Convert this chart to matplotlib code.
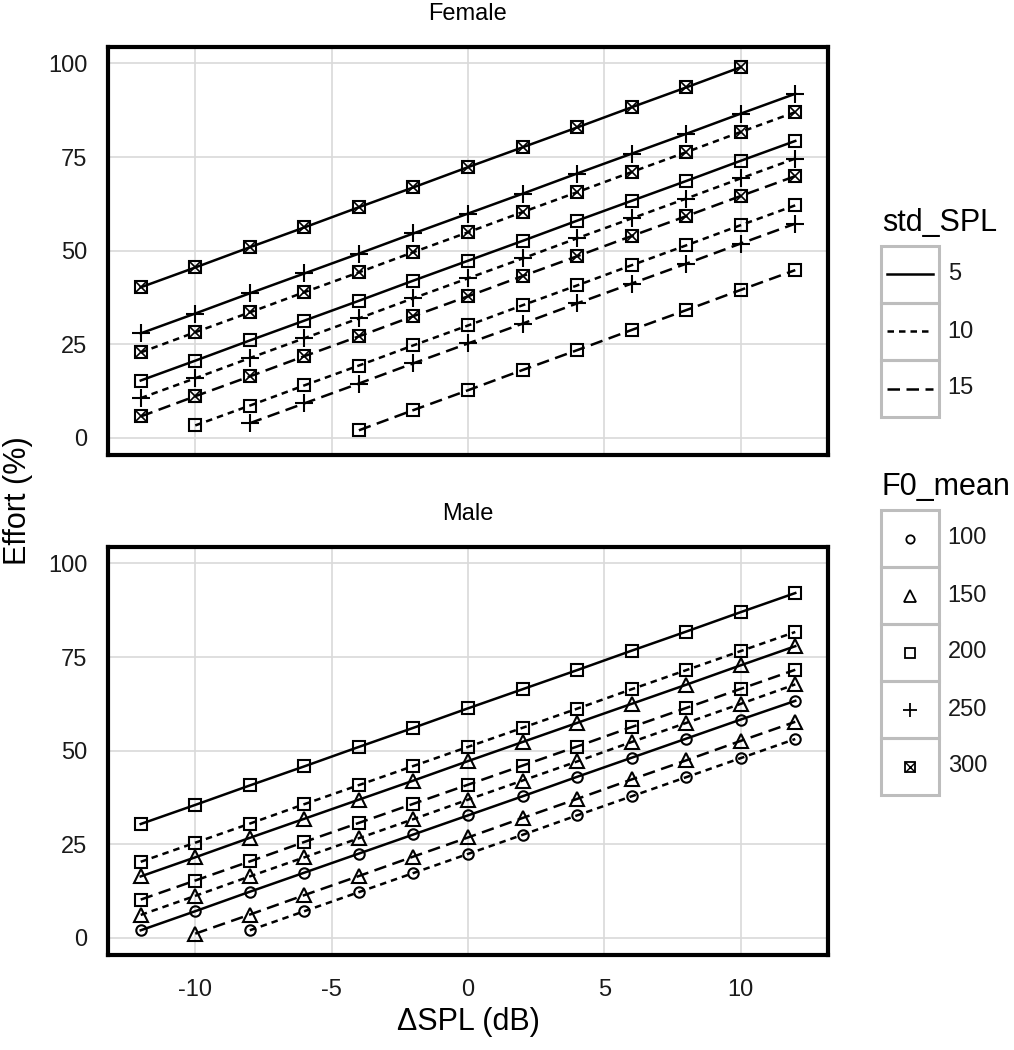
import numpy as np
import matplotlib.pyplot as plt
from matplotlib.patches import Rectangle

plt.rcParams["font.family"] = ["Liberation Sans", "DejaVu Sans"]
plt.rcParams["axes.unicode_minus"] = False

NA = np.nan
dspl = [-12, -10, -8, -6, -4, -2, 0, 2, 4, 6, 8, 10, 12]

# Female panel, effort (%) per dSPL step; NA = point not drawn
fem_300_sd5 = [40.2, 45.5, 50.9, 56.2, 61.6, 66.9, 72.3, 77.6, 82.9, 88.3, 93.6, 99.0, NA]
fem_250_sd5 = [27.9, 33.2, 38.6, 43.9, 49.2, 54.6, 59.9, 65.2, 70.6, 75.9, 81.2, 86.6, 91.9]
fem_300_sd10 = [22.8, 28.2, 33.5, 38.9, 44.2, 49.6, 54.9, 60.3, 65.6, 71.0, 76.3, 81.7, 87.0]
fem_200_sd5 = [15.3, 20.6, 26.0, 31.3, 36.6, 42.0, 47.3, 52.6, 58.0, 63.3, 68.6, 74.0, 79.3]
fem_250_sd10 = [10.6, 15.9, 21.3, 26.6, 31.9, 37.3, 42.6, 47.9, 53.3, 58.6, 63.9, 69.3, 74.6]
fem_300_sd15 = [5.7, 11.1, 16.4, 21.8, 27.1, 32.5, 37.8, 43.2, 48.5, 53.9, 59.2, 64.6, 69.9]
fem_200_sd10 = [NA, 3.3, 8.6, 14.0, 19.3, 24.7, 30.0, 35.4, 40.7, 46.1, 51.4, 56.8, 62.1]
fem_250_sd15 = [NA, NA, 3.9, 9.2, 14.5, 19.9, 25.2, 30.5, 35.9, 41.2, 46.5, 51.9, 57.2]
fem_200_sd15 = [NA, NA, NA, NA, 2.0, 7.4, 12.7, 18.1, 23.4, 28.8, 34.1, 39.5, 44.8]

# Male panel
male_200_sd5 = [30.4, 35.5, 40.7, 45.8, 51.0, 56.1, 61.3, 66.4, 71.5, 76.7, 81.8, 87.0, 92.1]
male_200_sd10 = [20.3, 25.4, 30.5, 35.7, 40.8, 45.9, 51.0, 56.1, 61.2, 66.4, 71.5, 76.6, 81.7]
male_150_sd5 = [16.4, 21.5, 26.7, 31.8, 36.9, 42.0, 47.2, 52.3, 57.4, 62.5, 67.6, 72.8, 77.9]
male_200_sd15 = [10.2, 15.3, 20.4, 25.6, 30.7, 35.8, 40.9, 46.0, 51.1, 56.3, 61.4, 66.5, 71.6]
male_150_sd10 = [6.1, 11.2, 16.4, 21.5, 26.6, 31.7, 36.9, 42.0, 47.1, 52.3, 57.4, 62.5, 67.7]
male_100_sd5 = [2.0, 7.1, 12.3, 17.4, 22.5, 27.6, 32.7, 37.8, 43.0, 48.1, 53.2, 58.3, 63.3]
male_150_sd15 = [NA, 1.1, 6.2, 11.4, 16.5, 21.7, 26.8, 32.0, 37.1, 42.3, 47.4, 52.6, 57.7]
male_100_sd10 = [NA, NA, 2.0, 7.1, 12.2, 17.3, 22.4, 27.5, 32.7, 37.8, 42.9, 48.0, 53.1]

female_series = [
    (fem_300_sd5, 300, 5), (fem_250_sd5, 250, 5), (fem_300_sd10, 300, 10),
    (fem_200_sd5, 200, 5), (fem_250_sd10, 250, 10), (fem_300_sd15, 300, 15),
    (fem_200_sd10, 200, 10), (fem_250_sd15, 250, 15), (fem_200_sd15, 200, 15),
]
male_series = [
    (male_200_sd5, 200, 5), (male_200_sd10, 200, 10), (male_150_sd5, 150, 5),
    (male_200_sd15, 200, 15), (male_150_sd10, 150, 10), (male_100_sd5, 100, 5),
    (male_150_sd15, 150, 15), (male_100_sd10, 100, 10),
]

std_levels = [5, 10, 15]
f0_levels = [100, 150, 200, 250, 300]

DASHES = {5: (None, None), 10: (0, (2.6, 2.0)), 15: (0, (5.0, 2.6))}
MARKERS = {100: ("o", 7.5), 150: ("^", 10.5), 200: ("s", 8.5), 250: ("+", 12.5), 300: ("s", 8.5)}
LW = 1.8


def draw_marker(ax, x, y, f0, scale=1.0, mew=1.5):
    m, ms = MARKERS[f0]
    ax.plot(x, y, ls="none", marker=m, ms=ms * scale, mfc="none", mec="black", mew=mew, zorder=4)
    if f0 == 300:
        ax.plot(x, y, ls="none", marker="x", ms=ms * scale, mec="black", mew=mew * 0.8, zorder=4)


def draw_panel(ax, series):
    x = np.array(dspl, dtype=float)
    for vals, f0, sd in series:
        y = np.array(vals, dtype=float)
        ls = "-" if sd == 5 else DASHES[sd]
        ax.plot(x, y, color="black", lw=LW, ls=ls, zorder=3)
        draw_marker(ax, x, y, f0)
    ax.set_xlim(-13.2, 13.2)
    ax.set_ylim(-4.6, 104.4)
    ax.set_xticks([-10, -5, 0, 5, 10])
    ax.set_yticks([0, 25, 50, 75, 100])
    ax.grid(color="#d9d9d9", lw=1.2)
    ax.set_axisbelow(True)
    for sp in ax.spines.values():
        sp.set_linewidth(3)
        sp.set_color("black")
    ax.tick_params(length=0, labelsize=17, labelcolor="#1a1a1a")
    ax.tick_params(axis="y", pad=15)
    ax.tick_params(axis="x", pad=17)


W, H = 1014, 1050
fig = plt.figure(figsize=(W / 100, H / 100), dpi=100)


def box(l, t, r, b):
    return [l / W, 1 - b / H, (r - l) / W, (b - t) / H]


ax_f = fig.add_axes(box(108, 47, 828, 455))
ax_m = fig.add_axes(box(108, 547, 828, 955))
draw_panel(ax_f, female_series)
draw_panel(ax_m, male_series)
ax_f.tick_params(labelbottom=False)

fig.text(468 / W, 1 - 14 / H, "Female", ha="center", va="center", fontsize=17)
fig.text(468 / W, 1 - 514 / H, "Male", ha="center", va="center", fontsize=17)
fig.text(18 / W, 1 - 501 / H, "Effort (%)", rotation=90, ha="center", va="center", fontsize=22)
fig.text(468 / W, 1 - 1022 / H, "\u0394SPL (dB)", ha="center", va="center", fontsize=22)

# legends
def draw_legend(top, n, title, labels, key_fn):
    key_h = 57
    lax = fig.add_axes(box(881, top, 939, top + n * key_h))
    lax.set_xlim(0, 1)
    lax.set_ylim(n, 0)
    lax.axis("off")
    for i, lab in enumerate(labels):
        lax.add_patch(Rectangle((0, i), 1, 1, fill=False, ec="#bdbdbd", lw=2.2, clip_on=False))
        key_fn(lax, i, lab)
        lax.text(1.15, i + 0.5, str(lab), ha="left", va="center", fontsize=17, color="#1a1a1a")
    fig.text(882 / W, 1 - (top - 23) / H, title, ha="left", va="center", fontsize=22)


def line_key(lax, i, sd):
    ls = "-" if sd == 5 else DASHES[sd]
    lax.plot([0.1, 0.9], [i + 0.5, i + 0.5], color="black", lw=LW, ls=ls)


def marker_key(lax, i, f0):
    draw_marker(lax, [0.5], [i + 0.5], f0, scale=0.8, mew=1.3)


draw_legend(246, 3, "std_SPL", std_levels, line_key)
draw_legend(510, 5, "F0_mean", f0_levels, marker_key)

fig.savefig("out.png", dpi=100, facecolor="white")
